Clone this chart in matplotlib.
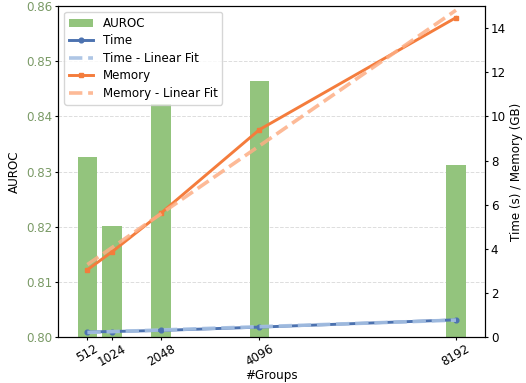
import numpy as np
import matplotlib
matplotlib.use("Agg")
import matplotlib.pyplot as plt

groups = [512, 1024, 2048, 4096, 8192]
auroc = [0.8326, 0.8201, 0.8422, 0.8464, 0.8312]
time_s = [0.23, 0.25, 0.30, 0.45, 0.78]
memory_gb = [3.05, 3.86, 5.62, 9.4, 14.48]

plt.rcParams['font.size'] = 8.6
plt.rcParams['xtick.major.size'] = 2.4
plt.rcParams['ytick.major.size'] = 2.4
plt.rcParams['xtick.major.pad'] = 1.5
plt.rcParams['ytick.major.pad'] = 1.8

x = np.array(groups)
# linear fits
t_fit = np.polyval(np.polyfit(x, time_s, 1), x)
m_fit = np.polyval(np.polyfit(x, memory_gb, 1), x)

fig, ax1 = plt.subplots(figsize=(5.26, 3.83), dpi=100)
fig.subplots_adjust(left=0.111, right=0.922, top=0.984, bottom=0.120)
bars = ax1.bar(x, auroc, width=400, color='#93c47d', label='AUROC', zorder=2)
ax1.set_ylim(0.80, 0.86)
ax1.set_ylabel('AUROC', labelpad=4)
ax1.set_xlabel('#Groups', labelpad=0)
ax1.set_xticks(groups)
ax1.set_xticklabels([str(g) for g in groups], rotation=30)
ax1.tick_params(axis='y', labelcolor='#7a9a66')
ax1.grid(axis='y', linestyle='--', color='#dddddd', linewidth=0.7, zorder=0)

ax2 = ax1.twinx()
l1, = ax2.plot(x, time_s, color='#4c72b0', marker='o', ms=3.4, lw=2.1, label='Time')
l2, = ax2.plot(x, t_fit, color='#a6c0e3', ls='--', lw=2.6, alpha=0.9, label='Time - Linear Fit')
l3, = ax2.plot(x, memory_gb, color='#f47c3c', marker='s', ms=3.4, lw=2.1, label='Memory')
l4, = ax2.plot(x, m_fit, color='#fdae85', ls='--', lw=2.6, alpha=0.85, label='Memory - Linear Fit')
ax2.set_ylim(0, 15)
ax2.set_ylabel('Time (s) / Memory (GB)', labelpad=3)

ax2.legend([bars, l1, l2, l3, l4], [h.get_label() for h in [bars, l1, l2, l3, l4]],
           loc='upper left', borderaxespad=0.5, labelspacing=0.38)

plt.savefig('out.png')
